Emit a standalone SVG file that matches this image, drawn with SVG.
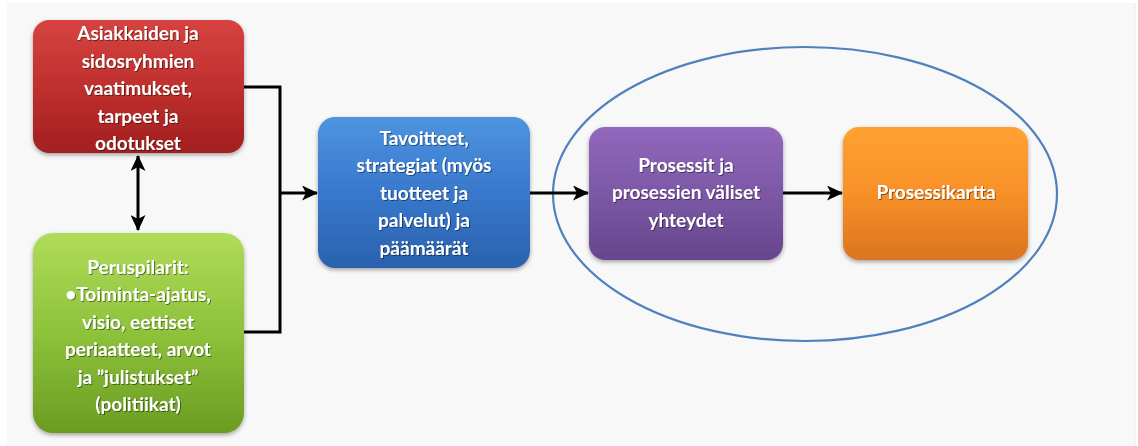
<svg xmlns="http://www.w3.org/2000/svg" width="1138" height="446" viewBox="0 0 1138 446">
<defs>
<style>
.t{font-family:Lato,"Liberation Sans",sans-serif;font-weight:bold;font-size:19px;fill:#fff;text-anchor:middle;filter:url(#ts)}
.c{fill:none;stroke:#000;stroke-width:3}
</style>
<linearGradient id="gr" x1="0" y1="0" x2="0" y2="1"><stop offset="0" stop-color="#d64340"/><stop offset="0.5" stop-color="#c0302e"/><stop offset="1" stop-color="#a21f20"/></linearGradient>
<linearGradient id="gg" x1="0" y1="0" x2="0" y2="1"><stop offset="0" stop-color="#b0dc5a"/><stop offset="0.5" stop-color="#8dc23a"/><stop offset="1" stop-color="#6b9c22"/></linearGradient>
<linearGradient id="gb" x1="0" y1="0" x2="0" y2="1"><stop offset="0" stop-color="#4e94e0"/><stop offset="0.5" stop-color="#3878cc"/><stop offset="1" stop-color="#2a62ae"/></linearGradient>
<linearGradient id="gp" x1="0" y1="0" x2="0" y2="1"><stop offset="0" stop-color="#9268bc"/><stop offset="0.5" stop-color="#7c58a6"/><stop offset="1" stop-color="#66468c"/></linearGradient>
<linearGradient id="go" x1="0" y1="0" x2="0" y2="1"><stop offset="0" stop-color="#ffa232"/><stop offset="0.5" stop-color="#f89028"/><stop offset="1" stop-color="#dc7420"/></linearGradient>
<filter id="sh" x="-10%" y="-10%" width="120%" height="130%"><feDropShadow dx="0" dy="2" stdDeviation="2" flood-color="#000" flood-opacity="0.35"/></filter>
<filter id="ts" x="-10%" y="-20%" width="120%" height="150%"><feDropShadow dx="1" dy="1" stdDeviation="0.6" flood-color="#000" flood-opacity="0.45"/></filter>
<marker id="ah" viewBox="0 0 16 15" refX="15" refY="7.5" markerWidth="16" markerHeight="15" markerUnits="userSpaceOnUse" orient="auto-start-reverse"><path d="M0,0 L16,7.5 L0,15 L4,7.5 z" fill="#000"/></marker>
</defs>
<rect width="1138" height="446" fill="#fff"/>
<rect x="7" y="3" width="1128" height="443" fill="#f8f8f8"/>
<line x1="1135" y1="3" x2="1135" y2="446" stroke="#eaeaea" stroke-width="1"/>
<ellipse cx="805" cy="194" rx="252" ry="147" fill="none" stroke="#4f81bd" stroke-width="2.2"/>
<g id="connectors">
<polyline class="c" points="243,87 280,87 280,332 243,332"/>
<line class="c" x1="280" y1="193" x2="317" y2="193" marker-end="url(#ah)"/>
<line class="c" x1="530" y1="193" x2="588" y2="193" marker-end="url(#ah)"/>
<line class="c" x1="783" y1="193" x2="842" y2="193" marker-end="url(#ah)"/>
<line class="c" x1="138" y1="156" x2="138" y2="230" marker-start="url(#ah)" marker-end="url(#ah)"/>
</g>
<g id="n1">
<rect x="33" y="20" width="211" height="133" rx="16" fill="url(#gr)" filter="url(#sh)"/>
<text class="t"><tspan x="138" y="40">Asiakkaiden ja</tspan><tspan x="138" y="68">sidosryhmien</tspan><tspan x="138" y="95">vaatimukset,</tspan><tspan x="138" y="123">tarpeet ja</tspan><tspan x="138" y="150">odotukset</tspan></text>
</g>
<g id="n2">
<rect x="33" y="233" width="211" height="200" rx="20" fill="url(#gg)" filter="url(#sh)"/>
<text class="t"><tspan x="138" y="274">Peruspilarit:</tspan><tspan x="138" y="301">•Toiminta-ajatus,</tspan><tspan x="138" y="329">visio, eettiset</tspan><tspan x="138" y="356">periaatteet, arvot</tspan><tspan x="138" y="384">ja ”julistukset”</tspan><tspan x="138" y="411">(politiikat)</tspan></text>
</g>
<g id="n3">
<rect x="318" y="117" width="212" height="151" rx="17" fill="url(#gb)" filter="url(#sh)"/>
<text class="t"><tspan x="424" y="145">Tavoitteet,</tspan><tspan x="424" y="172">strategiat (myös</tspan><tspan x="424" y="200">tuotteet ja</tspan><tspan x="424" y="227">palvelut) ja</tspan><tspan x="424" y="255">päämäärät</tspan></text>
</g>
<g id="n4">
<rect x="589" y="127" width="194" height="133" rx="16" fill="url(#gp)" filter="url(#sh)"/>
<text class="t"><tspan x="686" y="172">Prosessit ja</tspan><tspan x="686" y="199">prosessien väliset</tspan><tspan x="686" y="227">yhteydet</tspan></text>
</g>
<g id="n5">
<rect x="843" y="127" width="185" height="133" rx="16" fill="url(#go)" filter="url(#sh)"/>
<text class="t"><tspan x="936" y="199">Prosessikartta</tspan></text>
</g>
</svg>
